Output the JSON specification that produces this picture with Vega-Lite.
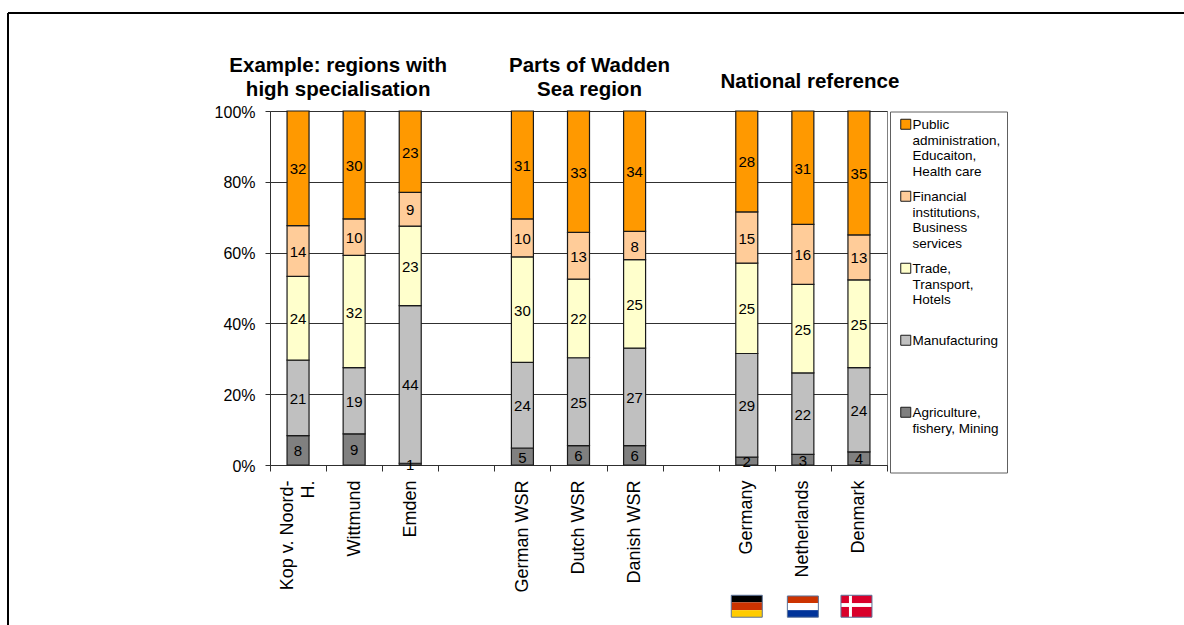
{
"$schema":"https://vega.github.io/schema/vega-lite/v6.json",
"width":617,"height":354,
"autosize":{"type":"none"},
"padding":{"left":270,"top":111,"right":297,"bottom":160},
"background":"white",
"config":{"font":"Liberation Sans","view":{"stroke":"#808080","strokeWidth":1}},
"data":{"values":[
{"region":"Kop v. Noord-H.","sector":"Agriculture, fishery, Mining","rank":1,"share":8.3,"label":8},
{"region":"Kop v. Noord-H.","sector":"Manufacturing","rank":2,"share":21.3,"label":21},
{"region":"Kop v. Noord-H.","sector":"Trade, Transport, Hotels","rank":3,"share":23.7,"label":24},
{"region":"Kop v. Noord-H.","sector":"Financial institutions, Business services","rank":4,"share":14.3,"label":14},
{"region":"Kop v. Noord-H.","sector":"Public administration, Educaiton, Health care","rank":5,"share":32.4,"label":32},
{"region":"Wittmund","sector":"Agriculture, fishery, Mining","rank":1,"share":8.8,"label":9},
{"region":"Wittmund","sector":"Manufacturing","rank":2,"share":18.7,"label":19},
{"region":"Wittmund","sector":"Trade, Transport, Hotels","rank":3,"share":31.7,"label":32},
{"region":"Wittmund","sector":"Financial institutions, Business services","rank":4,"share":10.3,"label":10},
{"region":"Wittmund","sector":"Public administration, Educaiton, Health care","rank":5,"share":30.5,"label":30},
{"region":"Emden","sector":"Agriculture, fishery, Mining","rank":1,"share":0.5,"label":1},
{"region":"Emden","sector":"Manufacturing","rank":2,"share":44.5,"label":44},
{"region":"Emden","sector":"Trade, Transport, Hotels","rank":3,"share":22.5,"label":23},
{"region":"Emden","sector":"Financial institutions, Business services","rank":4,"share":9.5,"label":9},
{"region":"Emden","sector":"Public administration, Educaiton, Health care","rank":5,"share":23,"label":23},
{"region":"German WSR","sector":"Agriculture, fishery, Mining","rank":1,"share":4.8,"label":5},
{"region":"German WSR","sector":"Manufacturing","rank":2,"share":24.2,"label":24},
{"region":"German WSR","sector":"Trade, Transport, Hotels","rank":3,"share":29.8,"label":30},
{"region":"German WSR","sector":"Financial institutions, Business services","rank":4,"share":10.7,"label":10},
{"region":"German WSR","sector":"Public administration, Educaiton, Health care","rank":5,"share":30.5,"label":31},
{"region":"Dutch WSR","sector":"Agriculture, fishery, Mining","rank":1,"share":5.5,"label":6},
{"region":"Dutch WSR","sector":"Manufacturing","rank":2,"share":24.8,"label":25},
{"region":"Dutch WSR","sector":"Trade, Transport, Hotels","rank":3,"share":22.2,"label":22},
{"region":"Dutch WSR","sector":"Financial institutions, Business services","rank":4,"share":13.2,"label":13},
{"region":"Dutch WSR","sector":"Public administration, Educaiton, Health care","rank":5,"share":34.3,"label":33},
{"region":"Danish WSR","sector":"Agriculture, fishery, Mining","rank":1,"share":5.5,"label":6},
{"region":"Danish WSR","sector":"Manufacturing","rank":2,"share":27.5,"label":27},
{"region":"Danish WSR","sector":"Trade, Transport, Hotels","rank":3,"share":25,"label":25},
{"region":"Danish WSR","sector":"Financial institutions, Business services","rank":4,"share":8,"label":8},
{"region":"Danish WSR","sector":"Public administration, Educaiton, Health care","rank":5,"share":34,"label":34},
{"region":"Germany","sector":"Agriculture, fishery, Mining","rank":1,"share":2.2,"label":2},
{"region":"Germany","sector":"Manufacturing","rank":2,"share":29.3,"label":29},
{"region":"Germany","sector":"Trade, Transport, Hotels","rank":3,"share":25.5,"label":25},
{"region":"Germany","sector":"Financial institutions, Business services","rank":4,"share":14.5,"label":15},
{"region":"Germany","sector":"Public administration, Educaiton, Health care","rank":5,"share":28.5,"label":28},
{"region":"Netherlands","sector":"Agriculture, fishery, Mining","rank":1,"share":3,"label":3},
{"region":"Netherlands","sector":"Manufacturing","rank":2,"share":23,"label":22},
{"region":"Netherlands","sector":"Trade, Transport, Hotels","rank":3,"share":25,"label":25},
{"region":"Netherlands","sector":"Financial institutions, Business services","rank":4,"share":17,"label":16},
{"region":"Netherlands","sector":"Public administration, Educaiton, Health care","rank":5,"share":32,"label":31},
{"region":"Denmark","sector":"Agriculture, fishery, Mining","rank":1,"share":3.7,"label":4},
{"region":"Denmark","sector":"Manufacturing","rank":2,"share":23.8,"label":24},
{"region":"Denmark","sector":"Trade, Transport, Hotels","rank":3,"share":24.8,"label":25},
{"region":"Denmark","sector":"Financial institutions, Business services","rank":4,"share":12.7,"label":13},
{"region":"Denmark","sector":"Public administration, Educaiton, Health care","rank":5,"share":35,"label":35}
]},
"resolve":{"scale":{"color":"independent"}},
"layer":[
{"mark":{"type":"bar","size":22,"stroke":"#1a1a1a","strokeWidth":1.2},
 "encoding":{
  "x":{"field":"region","type":"nominal","title":null,
   "scale":{"domain":["Kop v. Noord-H.","Wittmund","Emden","gap1","German WSR","Dutch WSR","Danish WSR","gap2","Germany","Netherlands","Denmark"],"paddingInner":0,"paddingOuter":0},
   "axis":{"labelAngle":-90,"labelAlign":"right","labelBaseline":"middle","labelPadding":9,"labelFontSize":18,"labelColor":"black","tickBand":"extent","tickSize":6,"tickColor":"#303030","domainColor":"#303030","labelLimit":300,"labelLineHeight":21,"grid":false,
    "labelOffset":{"condition":{"test":"datum.label=='Kop v. Noord-H.'","value":-11},"value":0},
    "labelExpr":"datum.label=='Kop v. Noord-H.'?['Kop v. Noord-','H.']:(slice(datum.label,0,3)=='gap'?'':datum.label)"}},
  "y":{"field":"share","type":"quantitative","stack":"zero","title":null,
   "scale":{"domain":[0,100],"nice":false},
   "axis":{"values":[0,20,40,60,80,100],"labelExpr":"datum.value+'%'","labelFontSize":16,"labelColor":"black","labelPadding":10,"labelOffset":1,"tickSize":5,"tickColor":"#303030","domainColor":"#303030","grid":true,"gridColor":"#303030","gridOpacity":1,"gridWidth":1}},
  "order":{"field":"rank","type":"quantitative"},
  "color":{"field":"sector","type":"nominal",
   "scale":{"domain":["Public administration, Educaiton, Health care","Financial institutions, Business services","Trade, Transport, Hotels","Manufacturing","Agriculture, fishery, Mining"],"range":["#FF9900","#FFCC99","#FFFFCC","#C0C0C0","#808080"]},
   "legend":{"title":null,"orient":"none","legendX":620,"legendY":0.5,"padding":6,"strokeColor":"#606060","fillColor":"white","symbolType":"square","symbolSize":100,"symbolStrokeColor":"#1a1a1a","symbolStrokeWidth":1,"symbolOpacity":1,"symbolOffset":3,"labelFontSize":13.5,"labelColor":"black","labelLimit":200,"labelBaseline":"top","labelOffset":0,"rowPadding":10,
    "encoding":{"labels":{"dy":{"value":-6}}},
    "labelExpr":"{'Public administration, Educaiton, Health care':['Public','administration,','Educaiton,','Health care'],'Financial institutions, Business services':['Financial','institutions,','Business','services'],'Trade, Transport, Hotels':['Trade,','Transport,','Hotels',''],'Manufacturing':['Manufacturing','','',''],'Agriculture, fishery, Mining':['Agriculture,','fishery, Mining','','']}[datum.label]"}}
 }},
{"mark":{"type":"text","fontSize":15,"color":"black","baseline":"middle","dy":1},
 "encoding":{
  "x":{"field":"region","type":"nominal"},
  "y":{"field":"share","type":"quantitative","stack":"zero","bandPosition":0.5},
  "detail":{"field":"sector"},
  "order":{"field":"rank","type":"quantitative"},
  "text":{"field":"label","type":"quantitative"}
 }},
{"data":{"values":[{"region":"Wittmund","heading":"Example: regions with\nhigh specialisation","level":100}]},
 "mark":{"type":"text","fontSize":20.5,"fontWeight":"bold","color":"black","lineBreak":"\n","lineHeight":24,"baseline":"middle","dx":-16,"dy":-45},
 "encoding":{"x":{"field":"region","type":"nominal"},"y":{"field":"level","type":"quantitative"},"text":{"field":"heading"}}},
{"data":{"values":[{"region":"Dutch WSR","heading":"Parts of Wadden\nSea region","level":100}]},
 "mark":{"type":"text","fontSize":20.5,"fontWeight":"bold","color":"black","lineBreak":"\n","lineHeight":24,"baseline":"middle","dx":11,"dy":-45},
 "encoding":{"x":{"field":"region","type":"nominal"},"y":{"field":"level","type":"quantitative"},"text":{"field":"heading"}}},
{"data":{"values":[{"region":"Netherlands","heading":"National reference","level":100}]},
 "mark":{"type":"text","fontSize":20.5,"fontWeight":"bold","color":"black","baseline":"middle","dx":7,"dy":-29},
 "encoding":{"x":{"field":"region","type":"nominal"},"y":{"field":"level","type":"quantitative"},"text":{"field":"heading"}}},
{"data":{"values":[
 {"region":"Germany","stripe":"black","top":-36.8,"bottom":-38.8},
 {"region":"Germany","stripe":"red","top":-38.8,"bottom":-41},
 {"region":"Germany","stripe":"gold","top":-41,"bottom":-43},
 {"region":"Netherlands","stripe":"red","top":-37,"bottom":-39},
 {"region":"Netherlands","stripe":"white","top":-39,"bottom":-41},
 {"region":"Netherlands","stripe":"blue","top":-41,"bottom":-43}
 ]},
 "mark":{"type":"bar","size":31,"stroke":null},
 "encoding":{"x":{"field":"region","type":"nominal"},
  "y":{"field":"top","type":"quantitative"},"y2":{"field":"bottom"},
  "color":{"field":"stripe","type":"nominal","legend":null,
   "scale":{"domain":["black","red","gold","white","blue"],"range":["#000000","#CC3300","#FFCC00","#FFFFFF","#003399"]}}}},
{"data":{"values":[{"region":"Denmark","top":-36.8,"bottom":-43}]},
 "mark":{"type":"bar","size":31,"color":"#D9002B","xOffset":-2.5},
 "encoding":{"x":{"field":"region","type":"nominal"},"y":{"field":"top","type":"quantitative"},"y2":{"field":"bottom"}}},
{"data":{"values":[{"region":"Denmark","top":-36.8,"bottom":-43}]},
 "mark":{"type":"bar","size":3,"color":"white","xOffset":-8.5},
 "encoding":{"x":{"field":"region","type":"nominal"},"y":{"field":"top","type":"quantitative"},"y2":{"field":"bottom"}}},
{"data":{"values":[{"region":"Denmark","top":-39,"bottom":-40.1}]},
 "mark":{"type":"bar","size":31,"color":"white","xOffset":-2.5},
 "encoding":{"x":{"field":"region","type":"nominal"},"y":{"field":"top","type":"quantitative"},"y2":{"field":"bottom"}}},
{"data":{"values":[{"region":"Germany","top":-36.8,"bottom":-43},{"region":"Netherlands","top":-37,"bottom":-43}]},
 "mark":{"type":"bar","size":31,"fillOpacity":0,"stroke":"#5A7299","strokeWidth":1},
 "encoding":{"x":{"field":"region","type":"nominal"},"y":{"field":"top","type":"quantitative"},"y2":{"field":"bottom"}}},
{"data":{"values":[{"region":"Denmark","top":-36.8,"bottom":-43}]},
 "mark":{"type":"bar","size":31,"fillOpacity":0,"stroke":"#5A7299","strokeWidth":1,"xOffset":-2.5},
 "encoding":{"x":{"field":"region","type":"nominal"},"y":{"field":"top","type":"quantitative"},"y2":{"field":"bottom"}}},
{"data":{"values":[{"frame":127.7,"end":-45.5}]},
 "mark":{"type":"rule","color":"black","strokeWidth":2},
 "encoding":{"y":{"field":"frame","type":"quantitative"},"x":{"value":-262},"x2":{"value":914}}},
{"data":{"values":[{"frame":127.7,"end":-45.5}]},
 "mark":{"type":"rule","color":"black","strokeWidth":2},
 "encoding":{"y":{"field":"frame","type":"quantitative"},"y2":{"field":"end"},"x":{"value":-262}}}
]
}
